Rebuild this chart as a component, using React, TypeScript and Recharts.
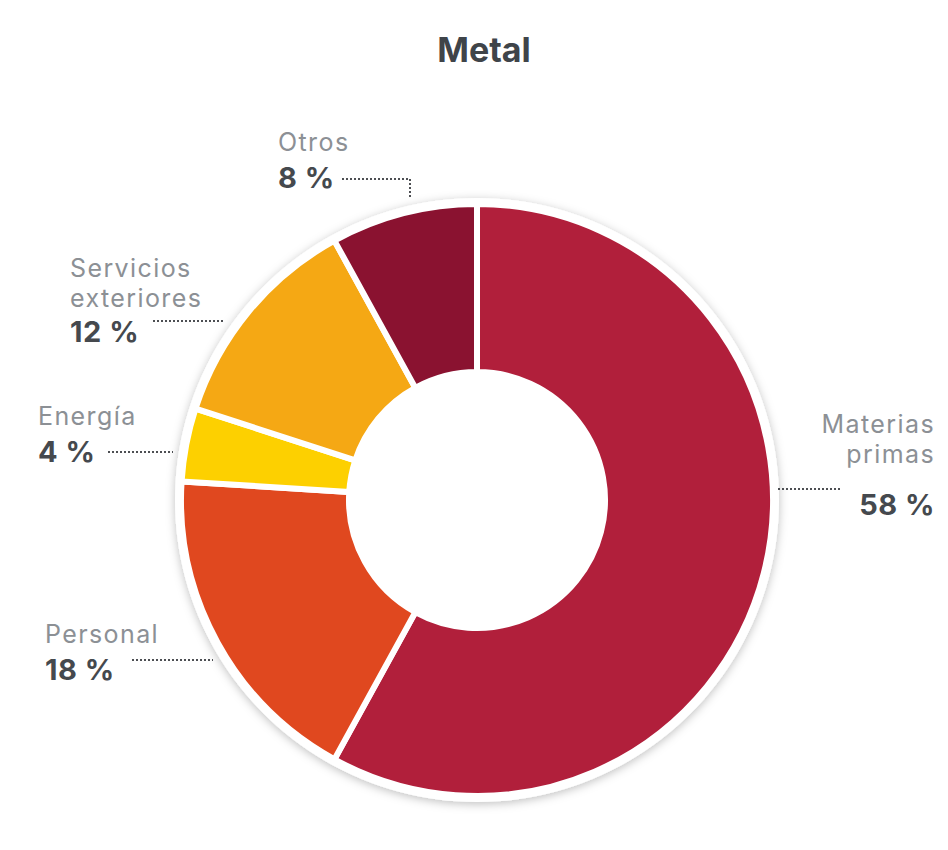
import React from "react";
import { PieChart, Pie, Cell } from "recharts";

// Estructura de costes del sector metal (% sobre el total)
const categories = ["Materias primas", "Personal", "Energía", "Servicios exteriores", "Otros"];
const shares = [58, 18, 4, 12, 8];
const nameLines = [["Materias", "primas"], ["Personal"], ["Energía"], ["Servicios", "exteriores"], ["Otros"]];
const sliceColors = ["#B11F3B", "#E0481F", "#FDD000", "#F5A814", "#8A1230"];

const data = categories.map((name, i) => ({ name, value: shares[i] }));

// posición de cada etiqueta, relativa al centro del donut
const LABEL_LAYOUT = [
  { x: 458, anchor: "end", nameY: [-67, -37], valueY: 15, leader: [[301, -11], [365, -11]] },
  { x: -432, anchor: "start", nameY: [143], valueY: 180, leader: [[-345, 160], [-264, 160]] },
  { x: -439, anchor: "start", nameY: [-75], valueY: -38, leader: [[-369, -48], [-304, -48]] },
  { x: -407, anchor: "start", nameY: [-223, -193], valueY: -158, leader: [[-324, -179], [-254, -179]] },
  { x: -199, anchor: "start", nameY: [-349], valueY: -312, leader: [[-135, -321], [-67, -321], [-67, -302]] },
];

const FONT = "Inter, 'Open Sans', sans-serif";

const CX = 469;
const CY = 492;

function SliceLabel(props: any) {
  const { cx, cy, index, value } = props;
  const l = LABEL_LAYOUT[index];
  const pts = l.leader.map(([x, y]) => `${cx + x},${cy + y}`).join(" ");
  return (
    <g>
      <polyline points={pts} fill="none" stroke="#4d4f53" strokeWidth={2} strokeDasharray="2 2" />
      {nameLines[index].map((line, k) => (
        <text key={k} x={cx + l.x} y={cy + l.nameY[k]} textAnchor={l.anchor} fontFamily={FONT} fontSize={25} letterSpacing={1.4} fill="#8c9095">
          {line}
        </text>
      ))}
      <text x={cx + l.x} y={cy + l.valueY} textAnchor={l.anchor} fontFamily={FONT} fontSize={29} fontWeight={700} letterSpacing={0.5} fill="#45494e">
        {`${value} %`}
      </text>
    </g>
  );
}

export default function App() {
  return (
    <div style={{ position: "relative", width: 940, height: 842, background: "#fff" }}>
      <div
        style={{
          position: "absolute",
          left: 0,
          width: 952,
          top: 25,
          textAlign: "center",
          fontFamily: FONT,
          fontWeight: 700,
          fontSize: 34,
          lineHeight: "34px",
          color: "#3f4449",
        }}
      >
        Metal
      </div>
      <PieChart width={940} height={842} margin={{ top: 0, right: 0, bottom: 0, left: 0 }}>
        <defs>
          <filter id="ringShadow" x="-20%" y="-20%" width="140%" height="140%">
            <feDropShadow dx="0" dy="2" stdDeviation="5" floodColor="#000" floodOpacity="0.25" />
          </filter>
        </defs>
        <Pie
          data={[{ value: 1 }]}
          dataKey="value"
          cx={CX}
          cy={CY}
          outerRadius={302}
          innerRadius={0}
          stroke="none"
          fill="#fff"
          style={{ filter: "url(#ringShadow)" }}
          isAnimationActive={false}
        />
        <Pie
          data={data}
          dataKey="value"
          nameKey="name"
          cx={CX}
          cy={CY}
          innerRadius={128}
          outerRadius={296}
          startAngle={90}
          endAngle={-270}
          stroke="#fff"
          strokeWidth={6}
          label={SliceLabel}
          labelLine={false}
          isAnimationActive={false}
        >
          {data.map((d, i) => (
            <Cell key={d.name} fill={sliceColors[i]} />
          ))}
        </Pie>
      </PieChart>
    </div>
  );
}
